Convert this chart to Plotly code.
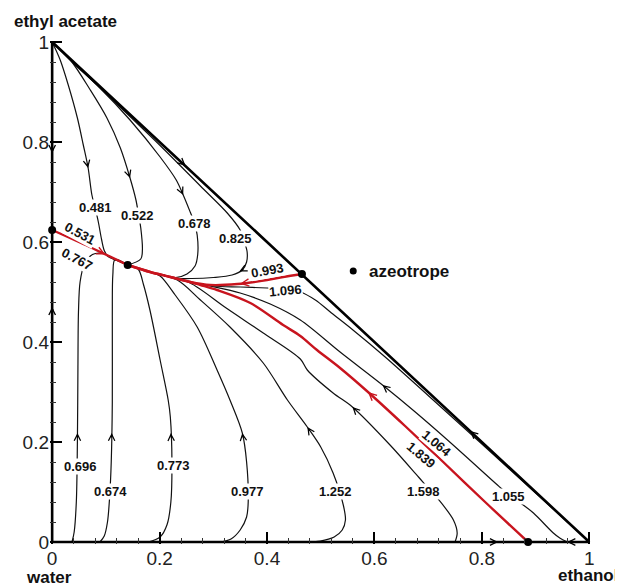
import math
import plotly.graph_objects as go

# ---------------- axis ticks ----------------
tick_vals = [0, 0.2, 0.4, 0.6, 0.8, 1]
tick_text = ["0", "0.2", "0.4", "0.6", "0.8", "1"]

# ---------------- azeotropes (x = ethanol, y = ethyl acetate) ----------------
azeo_x = [0.0, 0.1406, 0.465, 0.886]
azeo_y = [0.624, 0.554, 0.536, 0.0]

# composition triangle
tri_x = [0, 1, 0, 0]
tri_y = [0, 0, 1, 0]

# ---------------- residue curves (black) ----------------
c0481_x = [0, 0.015, 0.030, 0.047, 0.058, 0.067, 0.074, 0.080, 0.086, 0.092, 0.097, 0.104, 0.121, 0.1406]
c0481_y = [1, 0.964, 0.914, 0.848, 0.794, 0.748, 0.694, 0.668, 0.640, 0.605, 0.583, 0.571, 0.563, 0.554]

c0522_x = [0, 0.034, 0.071, 0.102, 0.127, 0.145, 0.156, 0.161, 0.165, 0.168, 0.165, 0.1406]
c0522_y = [1, 0.964, 0.904, 0.848, 0.788, 0.728, 0.684, 0.654, 0.628, 0.584, 0.566, 0.554]

c0678_x = [0, 0.037, 0.089, 0.145, 0.201, 0.231, 0.244, 0.257, 0.265, 0.270, 0.271, 0.266, 0.251, 0.230, 0.205, 0.1825, 0.1406]
c0678_y = [1, 0.960, 0.908, 0.844, 0.770, 0.724, 0.694, 0.660, 0.638, 0.614, 0.575, 0.552, 0.536, 0.529, 0.534, 0.540, 0.554]

c0825_x = [0, 0.1, 0.2, 0.276, 0.326, 0.350, 0.358, 0.363, 0.362, 0.354, 0.335, 0.300, 0.260, 0.230, 0.1825, 0.1406]
c0825_y = [1, 0.897, 0.794, 0.712, 0.658, 0.624, 0.600, 0.580, 0.560, 0.544, 0.534, 0.529, 0.527, 0.528, 0.540, 0.554]

c0696_x = [0.037, 0.041, 0.045, 0.047, 0.048, 0.049, 0.052, 0.060, 0.075, 0.095, 0.121, 0.1406]
c0696_y = [0, 0.02, 0.08, 0.2, 0.35, 0.46, 0.52, 0.555, 0.575, 0.577, 0.563, 0.554]

c0674_x = [0.089, 0.097, 0.103, 0.107, 0.110, 0.112, 0.112, 0.113, 0.117, 0.1406]
c0674_y = [0, 0.012, 0.04, 0.09, 0.16, 0.28, 0.45, 0.535, 0.565, 0.554]

c0773_x = [0.179, 0.201, 0.214, 0.221, 0.223, 0.220, 0.216, 0.201, 0.182, 0.170, 0.160, 0.1406]
c0773_y = [0, 0.010, 0.035, 0.08, 0.16, 0.25, 0.284, 0.364, 0.464, 0.515, 0.546, 0.554]

c0977_x = [0.313, 0.333, 0.350, 0.362, 0.365, 0.362, 0.354, 0.331, 0.307, 0.270, 0.229, 0.201, 0.1825, 0.1406]
c0977_y = [0, 0.006, 0.024, 0.05, 0.08, 0.16, 0.218, 0.284, 0.344, 0.43, 0.494, 0.532, 0.540, 0.554]

c1252_x = [0.471, 0.499, 0.525, 0.540, 0.546, 0.542, 0.523, 0.500, 0.475, 0.438, 0.393, 0.331, 0.276, 0.233, 0.1825, 0.1406]
c1252_y = [0, 0.002, 0.010, 0.024, 0.044, 0.074, 0.138, 0.19, 0.23, 0.284, 0.358, 0.43, 0.484, 0.524, 0.540, 0.554]

c1598_x = [0.750, 0.754, 0.747, 0.717, 0.700, 0.682, 0.629, 0.559, 0.523, 0.475, 0.462, 0.393, 0.324, 0.257, 0.220, 0.1825, 0.1406]
c1598_y = [0, 0.018, 0.044, 0.088, 0.108, 0.13, 0.194, 0.27, 0.298, 0.344, 0.366, 0.418, 0.468, 0.518, 0.530, 0.540, 0.554]

c1055_x = [0.959, 0.945, 0.933, 0.896, 0.872, 0.850, 0.829, 0.736, 0.676, 0.615, 0.536, 0.462, 0.406, 0.350, 0.294, 0.257, 0.220, 0.1825, 0.1406]
c1055_y = [0, 0.008, 0.018, 0.058, 0.078, 0.094, 0.114, 0.204, 0.26, 0.314, 0.38, 0.444, 0.476, 0.498, 0.512, 0.520, 0.530, 0.540, 0.554]

c1096_x = [1.0, 0.9, 0.8, 0.7, 0.62, 0.56, 0.52, 0.49, 0.462, 0.434, 0.40, 0.35, 0.30, 0.257, 0.220, 0.1825, 0.1406]
c1096_y = [0, 0.098, 0.196, 0.293, 0.370, 0.424, 0.458, 0.484, 0.500, 0.506, 0.508, 0.510, 0.512, 0.520, 0.530, 0.540, 0.554]

# ---------------- separatrices (red) ----------------
sep_left_x = [0.0, 0.07, 0.1406]
sep_left_y = [0.624, 0.590, 0.554]

sep_upper_x = [0.465, 0.430, 0.400, 0.345, 0.294, 0.257, 0.220, 0.1825, 0.1406]
sep_upper_y = [0.536, 0.530, 0.524, 0.516, 0.514, 0.520, 0.530, 0.540, 0.554]

sep_lower_x = [0.886, 0.808, 0.728, 0.657, 0.588, 0.536, 0.493, 0.462, 0.430, 0.369, 0.307, 0.276, 0.257, 0.220, 0.1825, 0.1406]
sep_lower_y = [0, 0.078, 0.160, 0.232, 0.300, 0.348, 0.384, 0.412, 0.434, 0.478, 0.504, 0.514, 0.520, 0.530, 0.540, 0.554]

# ---------------- curve labels ----------------
label_text = ["0.481", "0.522", "0.678", "0.825", "0.531", "0.767", "0.993", "1.096",
              "0.696", "0.674", "0.773", "0.977", "1.252", "1.598", "1.055", "1.064", "1.839"]
label_x = [0.080, 0.159, 0.265, 0.341, 0.052, 0.0475, 0.400, 0.434,
           0.053, 0.108, 0.226, 0.363, 0.527, 0.691, 0.850, 0.716, 0.688]
label_y = [0.670, 0.654, 0.638, 0.607, 0.618, 0.566, 0.544, 0.504,
           0.151, 0.101, 0.153, 0.101, 0.101, 0.101, 0.091, 0.197, 0.174]
label_angle = [0, 0, 0, 0, 28, 28, -10, -5, 0, 0, 0, 0, 0, 0, 0, 40, 40]

# ---------------- direction arrows: (curve, approx x, approx y) ----------------
arrow_curve = ["c0481", "c0522", "c0678", "c0825", "sep_left", "sep_upper", "sep_lower",
               "c0696", "c0674", "c0773", "c0977", "c1252", "c1598", "c1055",
               "edge_y_top", "edge_y_bottom", "edge_x_left", "edge_x_right", "edge_h_top", "edge_h_bottom"]
arrow_x = [0.067, 0.145, 0.244, 0.350, 0.099, 0.350, 0.588,
           0.047, 0.111, 0.222, 0.354, 0.475, 0.559, 0.615,
           0.0, 0.0, 0.83, 0.959, 0.248, 0.778]
arrow_y = [0.748, 0.728, 0.694, 0.538, 0.575, 0.516, 0.300,
           0.218, 0.218, 0.218, 0.218, 0.23, 0.27, 0.314,
           0.778, 0.47, 0.0, 0.0, 0.752, 0.222]

black_curves = {
    "c0481": (c0481_x, c0481_y), "c0522": (c0522_x, c0522_y),
    "c0678": (c0678_x, c0678_y), "c0825": (c0825_x, c0825_y),
    "c0696": (c0696_x, c0696_y), "c0674": (c0674_x, c0674_y),
    "c0773": (c0773_x, c0773_y), "c0977": (c0977_x, c0977_y),
    "c1252": (c1252_x, c1252_y), "c1598": (c1598_x, c1598_y),
    "c1055": (c1055_x, c1055_y), "c1096": (c1096_x, c1096_y),
}
red_curves = {
    "sep_left": (sep_left_x, sep_left_y),
    "sep_upper": (sep_upper_x, sep_upper_y),
    "sep_lower": (sep_lower_x, sep_lower_y),
}
# triangle edges oriented towards the binary azeotropes
edges = {
    "edge_y_top": ([tri_x[2], azeo_x[0]], [tri_y[2], azeo_y[0]]),
    "edge_y_bottom": ([tri_x[0], azeo_x[0]], [tri_y[0], azeo_y[0]]),
    "edge_x_left": ([tri_x[0], azeo_x[3]], [tri_y[0], azeo_y[3]]),
    "edge_x_right": ([tri_x[1], azeo_x[3]], [tri_y[1], azeo_y[3]]),
    "edge_h_top": ([tri_x[2], azeo_x[2]], [tri_y[2], azeo_y[2]]),
    "edge_h_bottom": ([tri_x[1], azeo_x[2]], [tri_y[1], azeo_y[2]]),
}

RED = "#c8141e"
FONT = "Liberation Sans, Arial, Helvetica, sans-serif"

fig = go.Figure()

for name, (xs, ys) in black_curves.items():
    fig.add_trace(go.Scatter(x=xs, y=ys, mode="lines",
                             line=dict(color="#111111", width=1.2, shape="spline", smoothing=0.9),
                             hoverinfo="skip", showlegend=False))
for name, (xs, ys) in red_curves.items():
    fig.add_trace(go.Scatter(x=xs, y=ys, mode="lines",
                             line=dict(color=RED, width=2.4, shape="spline", smoothing=0.9),
                             hoverinfo="skip", showlegend=False))

# triangle
fig.add_trace(go.Scatter(x=tri_x, y=tri_y, mode="lines",
                         line=dict(color="black", width=2.6),
                         hoverinfo="skip", showlegend=False))

# azeotrope points
fig.add_trace(go.Scatter(x=azeo_x, y=azeo_y, mode="markers",
                         marker=dict(color="black", size=8), cliponaxis=False,
                         hoverinfo="skip", showlegend=False))


def point_on(xs, ys, px, py):
    best = None
    for i in range(len(xs) - 1):
        x0, y0, x1, y1 = xs[i], ys[i], xs[i + 1], ys[i + 1]
        dx, dy = x1 - x0, y1 - y0
        L2 = dx * dx + dy * dy
        if L2 == 0:
            continue
        t = max(0.0, min(1.0, ((px - x0) * dx + (py - y0) * dy) / L2))
        qx, qy = x0 + t * dx, y0 + t * dy
        d = (qx - px) ** 2 + (qy - py) ** 2
        if best is None or d < best[0]:
            L = math.sqrt(L2)
            best = (d, qx, qy, dx / L, dy / L)
    return best[1:]


all_paths = {}
all_paths.update(black_curves)
all_paths.update(red_curves)
all_paths.update(edges)

for cname, ax_, ay_ in zip(arrow_curve, arrow_x, arrow_y):
    xs, ys = all_paths[cname]
    qx, qy, ux, uy = point_on(xs, ys, ax_, ay_)
    if cname in red_curves:
        color, w, s = RED, 2.4, 0.6
    elif cname in edges:
        color, w, s = "black", 2.6, 0.5
    else:
        color, w, s = "black", 1.2, 1.05
    tail = 0.012
    fig.add_annotation(x=qx, y=qy, ax=qx - ux * tail, ay=qy - uy * tail,
                       xref="x", yref="y", axref="x", ayref="y",
                       text="", showarrow=True, arrowhead=5, arrowsize=s,
                       arrowwidth=w, arrowcolor=color, standoff=0, startstandoff=0)

for t, x, y, a in zip(label_text, label_x, label_y, label_angle):
    fig.add_annotation(x=x, y=y, xref="x", yref="y", text=t, showarrow=False,
                       textangle=a, bgcolor="white", borderpad=0,
                       xanchor="center", yanchor="middle",
                       font=dict(family=FONT, size=13, color="#111111", weight="bold"))

# legend-like marker for azeotrope
legend_x = [0.5605]
legend_y = [0.542]
fig.add_trace(go.Scatter(x=legend_x, y=legend_y, mode="markers",
                         marker=dict(color="black", size=7),
                         hoverinfo="skip", showlegend=False))
fig.add_annotation(x=0.586, y=0.542, xref="x", yref="y", text="azeotrope",
                   showarrow=False, xanchor="left", yanchor="middle",
                   font=dict(family=FONT, size=17, color="#111111", weight="bold"))

# component names
name_font = dict(family=FONT, size=17, color="#111111", weight="bold")
fig.add_annotation(x=-0.071, y=1.037, xref="paper", yref="paper", text="ethyl acetate",
                   showarrow=False, xanchor="left", yanchor="middle", font=name_font)
fig.add_annotation(x=-0.002, y=-0.067, xref="paper", yref="paper", text="water",
                   showarrow=False, xanchor="center", yanchor="middle", font=name_font)
fig.add_annotation(x=0.993, y=-0.062, xref="paper", yref="paper", text="ethanol",
                   showarrow=False, xanchor="center", yanchor="middle", font=name_font)

axis_common = dict(
    tickmode="array", tickvals=tick_vals, ticktext=tick_text,
    ticks="inside", ticklen=12, tickwidth=2, tickcolor="black",
    showline=False, showgrid=False, zeroline=False, automargin=False,
    tickfont=dict(family=FONT, size=19, color="#222222"),
    minor=dict(ticks="inside", ticklen=6, tickwidth=1, tickcolor="#333333",
               dtick=0.04, tick0=0, showgrid=False),
)

# the page body adds an 8 px offset, so the margins are reduced by 8 px
fig.update_layout(
    width=623, height=586, autosize=False,
    margin=dict(l=42, r=39, t=32, b=50),
    paper_bgcolor="white", plot_bgcolor="white",
    showlegend=False,
    xaxis=dict(range=[-0.004, 1.005], ticklabelstandoff=1, **axis_common),
    yaxis=dict(range=[-0.004, 1.004], ticklabelstandoff=0, **axis_common),
)

fig.write_html("out.html")
